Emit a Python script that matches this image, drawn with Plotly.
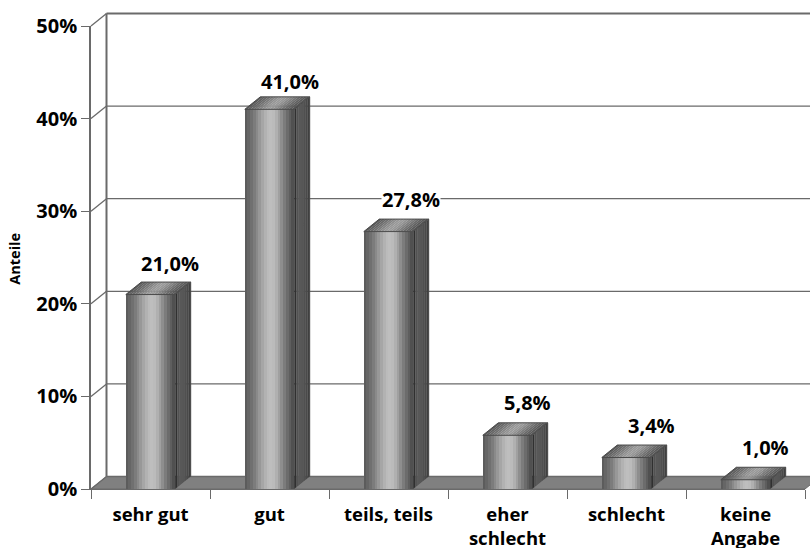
import plotly.graph_objects as go

categories = ["sehr gut", "gut", "teils, teils", "eher<br>schlecht", "schlecht", "keine<br>Angabe"]
values = [21.0, 41.0, 27.8, 5.8, 3.4, 1.0]
labels = ["21,0%", "41,0%", "27,8%", "5,8%", "3,4%", "1,0%"]
y_ticks = [0, 10, 20, 30, 40, 50]
y_tick_labels = ["0%", "10%", "20%", "30%", "40%", "50%"]

label_dx = [19, 20, 22, 20, 25, 20]
label_dy = [31, 28, 32, 33, 32, 32]

FRONT_GRAYS = [0x5c, 0x66, 0x70, 0x7c, 0x8a, 0x98, 0xa6, 0xb2, 0xbb, 0xbe, 0xbb, 0xb0, 0xa0, 0x8e, 0x7c, 0x6c, 0x5e, 0x50]
TOP_GRAYS = [0x58, 0x60, 0x68, 0x70, 0x7a, 0x84, 0x8e, 0x96, 0x9a, 0x98, 0x92, 0x88, 0x7e, 0x74, 0x6a, 0x62, 0x5a, 0x54]
SIDE_GRAYS = [0x30, 0x52, 0x58, 0x58, 0x56, 0x50, 0x4a, 0x40]

FONT = "Open Sans"
PW, PH = 714.0, 463.5
BAR_W = 0.415
DX = 15.5 / (PW / 6)
DY = 12.5 / (PH / 50)
LINE = "#6a6a6a"


def gray(v):
    return f"rgb({v},{v},{v})"


fig = go.Figure()

n = len(FRONT_GRAYS)
sw = BAR_W / n
centers = [i + 0.5 for i in range(len(values))]
for k, g in enumerate(FRONT_GRAYS):
    fig.add_trace(go.Bar(
        x=[c - BAR_W / 2 + sw * (k + 0.5) for c in centers], y=values, width=sw * 1.06,
        marker=dict(color=gray(g), line=dict(width=0)), xaxis="x", yaxis="y",
        cliponaxis=False, showlegend=False, hoverinfo="skip"))

for k, g in enumerate(TOP_GRAYS):
    w = BAR_W / len(TOP_GRAYS)
    xs, ys = [], []
    for c, v in zip(centers, values):
        x0 = c - BAR_W / 2 + w * k
        x1 = x0 + w * 1.05
        xs += [x0, x1, x1 + DX, x0 + DX, x0, None]
        ys += [v, v, v + DY, v + DY, v, None]
    fig.add_trace(go.Scatter(x=xs, y=ys, mode="lines", fill="toself", fillcolor=gray(g),
                             line=dict(width=0), cliponaxis=False, showlegend=False, hoverinfo="skip"))

for k, g in enumerate(SIDE_GRAYS):
    f0 = k / len(SIDE_GRAYS)
    f1 = (k + 1.05) / len(SIDE_GRAYS)
    xs, ys = [], []
    for c, v in zip(centers, values):
        xr = c + BAR_W / 2
        xs += [xr + DX * f0, xr + DX * f1, xr + DX * f1, xr + DX * f0, xr + DX * f0, None]
        ys += [DY * f0, DY * f1, v + DY * f1, v + DY * f0, DY * f0, None]
    fig.add_trace(go.Scatter(x=xs, y=ys, mode="lines", fill="toself", fillcolor=gray(g),
                             line=dict(width=0), cliponaxis=False, showlegend=False, hoverinfo="skip"))

xs, ys = [], []
for c, v in zip(centers, values):
    xl, xr = c - BAR_W / 2, c + BAR_W / 2
    xs += [xl, xl + DX, xr + DX, xr, None, xr + DX, xr + DX, None, xl, xr, None]
    ys += [v, v + DY, v + DY, v, None, v + DY, DY, None, v, v, None]
fig.add_trace(go.Scatter(x=xs, y=ys, mode="lines", line=dict(width=1, color="#4a4a4a"),
                         cliponaxis=False, showlegend=False, hoverinfo="skip"))


def px(x):
    return x / 6


def py(y):
    return y / 50


shapes = []
shapes.append(dict(type="path", xref="paper", yref="paper", layer="below",
                   path=f"M {px(0)} {py(0)} L {px(6)} {py(0)} L {px(6 + DX)} {py(DY)} L {px(DX)} {py(DY)} Z",
                   fillcolor="#808080", line=dict(color=LINE, width=1)))
for t in y_ticks:
    w = 2 if t == 50 else 1.3
    shapes.append(dict(type="line", xref="paper", yref="paper", layer="below",
                       x0=px(DX), x1=px(6 + DX), y0=py(t + DY), y1=py(t + DY), line=dict(color=LINE, width=w)))
    shapes.append(dict(type="line", xref="paper", yref="paper", layer="below",
                       x0=px(0), x1=px(DX), y0=py(t), y1=py(t + DY), line=dict(color=LINE, width=1.3)))
shapes.append(dict(type="line", xref="paper", yref="paper", layer="below",
                   x0=px(DX), x1=px(DX), y0=py(DY), y1=py(50 + DY), line=dict(color=LINE, width=2)))

annotations = []
for c, v, t, dx, dy in zip(centers, values, labels, label_dx, label_dy):
    annotations.append(dict(x=c, y=v, text=f"<b>{t}</b>", showarrow=False, xshift=dx, yshift=dy,
                            xanchor="center", yanchor="middle", bgcolor="white", borderpad=0,
                            font=dict(family=FONT, size=20, color="black")))
annotations.append(dict(xref="paper", yref="paper", x=(15 - 91) / PW, y=(489.5 - 259) / PH,
                        text="<b>Anteile</b>", textangle=-90, showarrow=False,
                        xanchor="center", yanchor="middle",
                        font=dict(family=FONT, size=14.5, color="black")))

fig.update_layout(
    width=810, height=548,
    margin=dict(l=91, r=5, t=26, b=58.5),
    paper_bgcolor="white", plot_bgcolor="rgba(0,0,0,0)",
    barmode="overlay", bargap=0, showlegend=False,
    font=dict(family=FONT, color="black"),
    xaxis=dict(range=[0, 6], tickmode="array", tickvals=list(range(7)), ticktext=[""] * 7,
               ticks="outside", ticklen=9, tickcolor=LINE, tickwidth=1.3, automargin=False,
               showgrid=False, zeroline=False, showline=True, linecolor=LINE, linewidth=1.3),
    xaxis2=dict(range=[0, 6], overlaying="x", anchor="y", side="bottom", tickmode="array",
                tickvals=centers, ticktext=[f"<b>{c}</b>" for c in categories], automargin=False,
                ticks="outside", ticklen=9, tickcolor="rgba(0,0,0,0)", tickwidth=0,
                tickfont=dict(family=FONT, size=18.5, color="black"), showgrid=False, zeroline=False,
                showline=False),
    yaxis=dict(range=[0, 50], tickmode="array", tickvals=y_ticks, automargin=False,
               ticktext=[f"<b>{t}</b>" for t in y_tick_labels],
               ticks="outside", ticklen=8, tickcolor=LINE, tickwidth=1.3,
               tickfont=dict(family=FONT, size=20, color="black"), showgrid=False, zeroline=False,
               showline=True, linecolor=LINE, linewidth=1.5),
    shapes=shapes, annotations=annotations,
)
fig.add_trace(go.Scatter(x=centers, y=values, xaxis="x2", yaxis="y", mode="markers",
                         marker=dict(opacity=0), showlegend=False, hoverinfo="skip"))

fig.write_html("out.html", post_script="document.body.style.margin='0';",
               config=dict(displayModeBar=False))
